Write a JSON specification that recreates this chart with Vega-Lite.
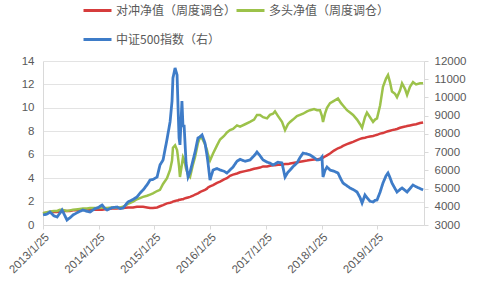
{
"$schema": "https://vega.github.io/schema/vega-lite/v6.json",
"width": 381, "height": 164,
"autosize": {"type": "none"},
"padding": {"left": 43, "top": 61, "right": 53, "bottom": 60},
"config": {"view": {"stroke": null}, "font": "Liberation Sans",
  "axis": {"labelColor": "#595959", "labelFontSize": 11.5, "domainColor": "#d9d9d9", "tickColor": "#d9d9d9", "gridColor": "#e3e3e3", "title": null},
  "legend": {"orient": "none", "title": null, "symbolType": "stroke", "symbolSize": 784, "symbolStrokeWidth": 3, "labelFont": "Noto Sans CJK SC", "labelFontSize": 12, "labelColor": "#595959", "labelOffset": 3, "labelLimit": 300}},
"data": {"values": [
{"d":"2013-01-25","h":1.0,"l":1.0,"c":3550},
{"d":"2013-02-20","h":1.05,"l":1.1,"c":3600},
{"d":"2013-03-12","h":1.1,"l":1.15,"c":3713},
{"d":"2013-04-07","h":1.1,"l":1.2,"c":3500},
{"d":"2013-04-27","h":1.1,"l":1.2,"c":3440},
{"d":"2013-05-16","h":1.15,"l":1.3,"c":3650},
{"d":"2013-05-30","h":1.15,"l":1.3,"c":3823},
{"d":"2013-06-18","h":1.2,"l":1.25,"c":3500},
{"d":"2013-07-01","h":1.2,"l":1.2,"c":3274},
{"d":"2013-07-21","h":1.2,"l":1.25,"c":3400},
{"d":"2013-08-10","h":1.25,"l":1.3,"c":3549},
{"d":"2013-09-11","h":1.25,"l":1.35,"c":3700},
{"d":"2013-10-14","h":1.3,"l":1.4,"c":3823},
{"d":"2013-11-10","h":1.3,"l":1.4,"c":3750},
{"d":"2013-11-29","h":1.3,"l":1.45,"c":3713},
{"d":"2014-01-01","h":1.3,"l":1.45,"c":3900},
{"d":"2014-01-21","h":1.3,"l":1.45,"c":3950},
{"d":"2014-02-16","h":1.3,"l":1.5,"c":4098},
{"d":"2014-03-08","h":1.35,"l":1.45,"c":3900},
{"d":"2014-03-21","h":1.35,"l":1.45,"c":3823},
{"d":"2014-04-22","h":1.4,"l":1.5,"c":3950},
{"d":"2014-05-25","h":1.4,"l":1.5,"c":3988},
{"d":"2014-06-14","h":1.45,"l":1.5,"c":3900},
{"d":"2014-07-04","h":1.45,"l":1.55,"c":3933},
{"d":"2014-08-05","h":1.5,"l":1.8,"c":4262},
{"d":"2014-09-07","h":1.5,"l":2.0,"c":4400},
{"d":"2014-10-03","h":1.55,"l":2.2,"c":4537},
{"d":"2014-10-23","h":1.55,"l":2.3,"c":4750},
{"d":"2014-11-12","h":1.55,"l":2.4,"c":4921},
{"d":"2014-12-08","h":1.5,"l":2.5,"c":5200},
{"d":"2014-12-28","h":1.45,"l":2.6,"c":5470},
{"d":"2015-01-16","h":1.45,"l":2.7,"c":5500},
{"d":"2015-02-12","h":1.5,"l":2.9,"c":5634},
{"d":"2015-03-03","h":1.6,"l":3.0,"c":6293},
{"d":"2015-03-23","h":1.7,"l":3.5,"c":6567},
{"d":"2015-04-18","h":1.85,"l":4.0,"c":7700},
{"d":"2015-05-08","h":1.9,"l":4.7,"c":8653},
{"d":"2015-05-21","h":1.95,"l":5.5,"c":9800},
{"d":"2015-05-27","h":2.0,"l":6.6,"c":11067},
{"d":"2015-06-10","h":2.05,"l":6.8,"c":11616},
{"d":"2015-06-23","h":2.1,"l":6.4,"c":11232},
{"d":"2015-06-29","h":2.1,"l":5.8,"c":9586},
{"d":"2015-07-06","h":2.15,"l":5.0,"c":7775},
{"d":"2015-07-12","h":2.15,"l":4.1,"c":7400},
{"d":"2015-07-25","h":2.2,"l":5.2,"c":9800},
{"d":"2015-08-01","h":2.2,"l":5.8,"c":8378},
{"d":"2015-08-08","h":2.25,"l":5.6,"c":8500},
{"d":"2015-08-21","h":2.3,"l":4.8,"c":6400},
{"d":"2015-09-03","h":2.35,"l":4.3,"c":5634},
{"d":"2015-09-16","h":2.4,"l":4.1,"c":5900},
{"d":"2015-10-06","h":2.5,"l":5.2,"c":6567},
{"d":"2015-10-19","h":2.6,"l":5.8,"c":7006},
{"d":"2015-11-07","h":2.7,"l":7.0,"c":7775},
{"d":"2015-11-20","h":2.8,"l":7.5,"c":7830},
{"d":"2015-12-04","h":2.9,"l":7.4,"c":7940},
{"d":"2015-12-23","h":3.0,"l":6.9,"c":7500},
{"d":"2016-01-05","h":3.1,"l":6.4,"c":6842},
{"d":"2016-01-12","h":3.2,"l":6.0,"c":6402},
{"d":"2016-01-25","h":3.3,"l":5.5,"c":5470},
{"d":"2016-02-14","h":3.4,"l":6.1,"c":6018},
{"d":"2016-03-11","h":3.6,"l":6.8,"c":6100},
{"d":"2016-03-31","h":3.7,"l":7.3,"c":6018},
{"d":"2016-04-26","h":3.9,"l":7.6,"c":5950},
{"d":"2016-05-15","h":4.0,"l":7.9,"c":5854},
{"d":"2016-06-04","h":4.2,"l":8.1,"c":6018},
{"d":"2016-06-24","h":4.3,"l":8.2,"c":6183},
{"d":"2016-07-20","h":4.4,"l":8.5,"c":6500},
{"d":"2016-08-09","h":4.5,"l":8.4,"c":6600},
{"d":"2016-09-11","h":4.6,"l":8.6,"c":6500},
{"d":"2016-10-13","h":4.7,"l":8.8,"c":6567},
{"d":"2016-11-09","h":4.8,"l":9.0,"c":6800},
{"d":"2016-11-28","h":4.85,"l":9.4,"c":7006},
{"d":"2016-12-18","h":4.9,"l":9.4,"c":6800},
{"d":"2017-01-07","h":5.0,"l":9.2,"c":6567},
{"d":"2017-02-02","h":5.0,"l":9.1,"c":6450},
{"d":"2017-02-21","h":5.05,"l":9.4,"c":6400},
{"d":"2017-03-13","h":5.1,"l":9.5,"c":6293},
{"d":"2017-03-26","h":5.1,"l":9.7,"c":6350},
{"d":"2017-04-15","h":5.15,"l":9.3,"c":6450},
{"d":"2017-05-11","h":5.15,"l":8.8,"c":6402},
{"d":"2017-05-31","h":5.2,"l":8.1,"c":5634},
{"d":"2017-06-19","h":5.2,"l":8.6,"c":5900},
{"d":"2017-07-03","h":5.25,"l":8.8,"c":6018},
{"d":"2017-07-22","h":5.3,"l":9.0,"c":6200},
{"d":"2017-08-17","h":5.35,"l":9.3,"c":6402},
{"d":"2017-09-06","h":5.4,"l":9.4,"c":6700},
{"d":"2017-09-26","h":5.45,"l":9.5,"c":6951},
{"d":"2017-10-22","h":5.5,"l":9.7,"c":6900},
{"d":"2017-11-11","h":5.55,"l":9.8,"c":6842},
{"d":"2017-12-07","h":5.6,"l":9.9,"c":6700},
{"d":"2017-12-27","h":5.6,"l":9.8,"c":6567},
{"d":"2018-01-15","h":5.65,"l":9.8,"c":6600},
{"d":"2018-01-28","h":5.7,"l":9.3,"c":6732},
{"d":"2018-02-04","h":5.75,"l":8.8,"c":5634},
{"d":"2018-02-17","h":5.85,"l":9.5,"c":6000},
{"d":"2018-03-02","h":5.95,"l":10.0,"c":6183},
{"d":"2018-03-22","h":6.1,"l":10.4,"c":6018},
{"d":"2018-04-17","h":6.35,"l":10.6,"c":5950},
{"d":"2018-05-13","h":6.55,"l":10.8,"c":5854},
{"d":"2018-06-02","h":6.65,"l":10.4,"c":5500},
{"d":"2018-06-15","h":6.75,"l":10.2,"c":5305},
{"d":"2018-07-11","h":6.9,"l":9.8,"c":5150},
{"d":"2018-07-31","h":7.0,"l":9.6,"c":5031},
{"d":"2018-08-20","h":7.1,"l":9.4,"c":4950},
{"d":"2018-09-15","h":7.25,"l":9.0,"c":4811},
{"d":"2018-10-05","h":7.35,"l":8.6,"c":4500},
{"d":"2018-10-18","h":7.4,"l":8.3,"c":4207},
{"d":"2018-11-06","h":7.45,"l":9.2,"c":4646},
{"d":"2018-11-19","h":7.5,"l":9.6,"c":4500},
{"d":"2018-12-09","h":7.55,"l":9.2,"c":4300},
{"d":"2018-12-29","h":7.6,"l":8.8,"c":4262},
{"d":"2019-01-11","h":7.65,"l":9.0,"c":4350},
{"d":"2019-01-24","h":7.7,"l":9.1,"c":4372},
{"d":"2019-02-13","h":7.8,"l":10.2,"c":4800},
{"d":"2019-03-04","h":7.85,"l":11.8,"c":5305},
{"d":"2019-03-24","h":7.95,"l":12.5,"c":5700},
{"d":"2019-04-06","h":8.0,"l":12.8,"c":5854},
{"d":"2019-04-19","h":8.05,"l":12.2,"c":5600},
{"d":"2019-05-02","h":8.1,"l":11.4,"c":5305},
{"d":"2019-05-22","h":8.15,"l":11.2,"c":5000},
{"d":"2019-06-04","h":8.2,"l":10.9,"c":4811},
{"d":"2019-06-24","h":8.3,"l":11.5,"c":4950},
{"d":"2019-07-07","h":8.35,"l":12.1,"c":5031},
{"d":"2019-07-27","h":8.4,"l":11.6,"c":4900},
{"d":"2019-08-09","h":8.45,"l":11.1,"c":4811},
{"d":"2019-08-28","h":8.5,"l":11.8,"c":5000},
{"d":"2019-09-17","h":8.55,"l":12.2,"c":5195},
{"d":"2019-10-07","h":8.6,"l":12.0,"c":5100},
{"d":"2019-11-02","h":8.7,"l":12.1,"c":5000},
{"d":"2019-11-22","h":8.75,"l":12.1,"c":4921}
]},
"encoding": {
  "x": {"field": "d", "type": "temporal",
   "scale": {"type": "utc", "domain": [{"year": 2013, "month": 1, "date": 25, "utc": true}, {"year": 2019, "month": 11, "date": 28, "utc": true}]},
   "axis": {"labelExpr": "utcFormat(datum.value, '%Y/%-m/%-d')", "labelAngle": -45, "labelAlign": "right", "labelBaseline": "top", "grid": false, "ticks": true, "tickSize": 4, "labelPadding": 2, "labelFlush": false, "labelOverlap": false,
    "values": [{"year": 2013, "month": 1, "date": 25, "utc": true}, {"year": 2014, "month": 1, "date": 25, "utc": true}, {"year": 2015, "month": 1, "date": 25, "utc": true}, {"year": 2016, "month": 1, "date": 25, "utc": true}, {"year": 2017, "month": 1, "date": 25, "utc": true}, {"year": 2018, "month": 1, "date": 25, "utc": true}, {"year": 2019, "month": 1, "date": 25, "utc": true}]}}
},
"layer": [
{
 "encoding": {
  "y": {"type": "quantitative", "scale": {"domain": [0, 14]},
   "axis": {"values": [0, 2, 4, 6, 8, 10, 12, 14], "grid": true, "ticks": false, "labelPadding": 9, "domain": true}}
 },
 "layer": [
  {
   "mark": {"type": "line", "strokeWidth": 2.5},
   "encoding": {
    "y": {"field": "h", "type": "quantitative", "scale": {"domain": [0, 14]},
     "axis": {"values": [0, 2, 4, 6, 8, 10, 12, 14], "grid": true, "ticks": false, "labelPadding": 9, "domain": true}},
    "color": {"datum": "对冲净值（周度调仓）", "scale": {"range": ["#d63c3c"]},
     "legend": {"legendX": 39, "legendY": -66}}
   }
  },
  {
   "mark": {"type": "line", "strokeWidth": 2.5},
   "encoding": {
    "y": {"field": "l", "type": "quantitative", "scale": {"domain": [0, 14]},
     "axis": {"values": [0, 2, 4, 6, 8, 10, 12, 14], "grid": true, "ticks": false, "labelPadding": 9, "domain": true}},
    "stroke": {"datum": "多头净值（周度调仓）", "scale": {"range": ["#9cc24a"]},
     "legend": {"legendX": 192, "legendY": -66}}
   }
  }
 ]
},
{
 "mark": {"type": "line", "strokeWidth": 2.8, "color": "#3e7cc8"},
 "encoding": {
  "y": {"field": "c", "type": "quantitative", "scale": {"domain": [3000, 12000]},
   "axis": {"orient": "right", "values": [3000, 4000, 5000, 6000, 7000, 8000, 9000, 10000, 11000, 12000], "grid": false, "ticks": true, "tickSize": 4, "labelPadding": 6, "format": "d"}},
  "strokeDash": {"datum": "中证500指数（右）", "scale": {"range": [[1, 0]]},
   "legend": {"legendX": 39, "legendY": -37, "symbolStrokeColor": "#3e7cc8"}}
 }
}
],
"resolve": {"scale": {"y": "independent"}}
}
